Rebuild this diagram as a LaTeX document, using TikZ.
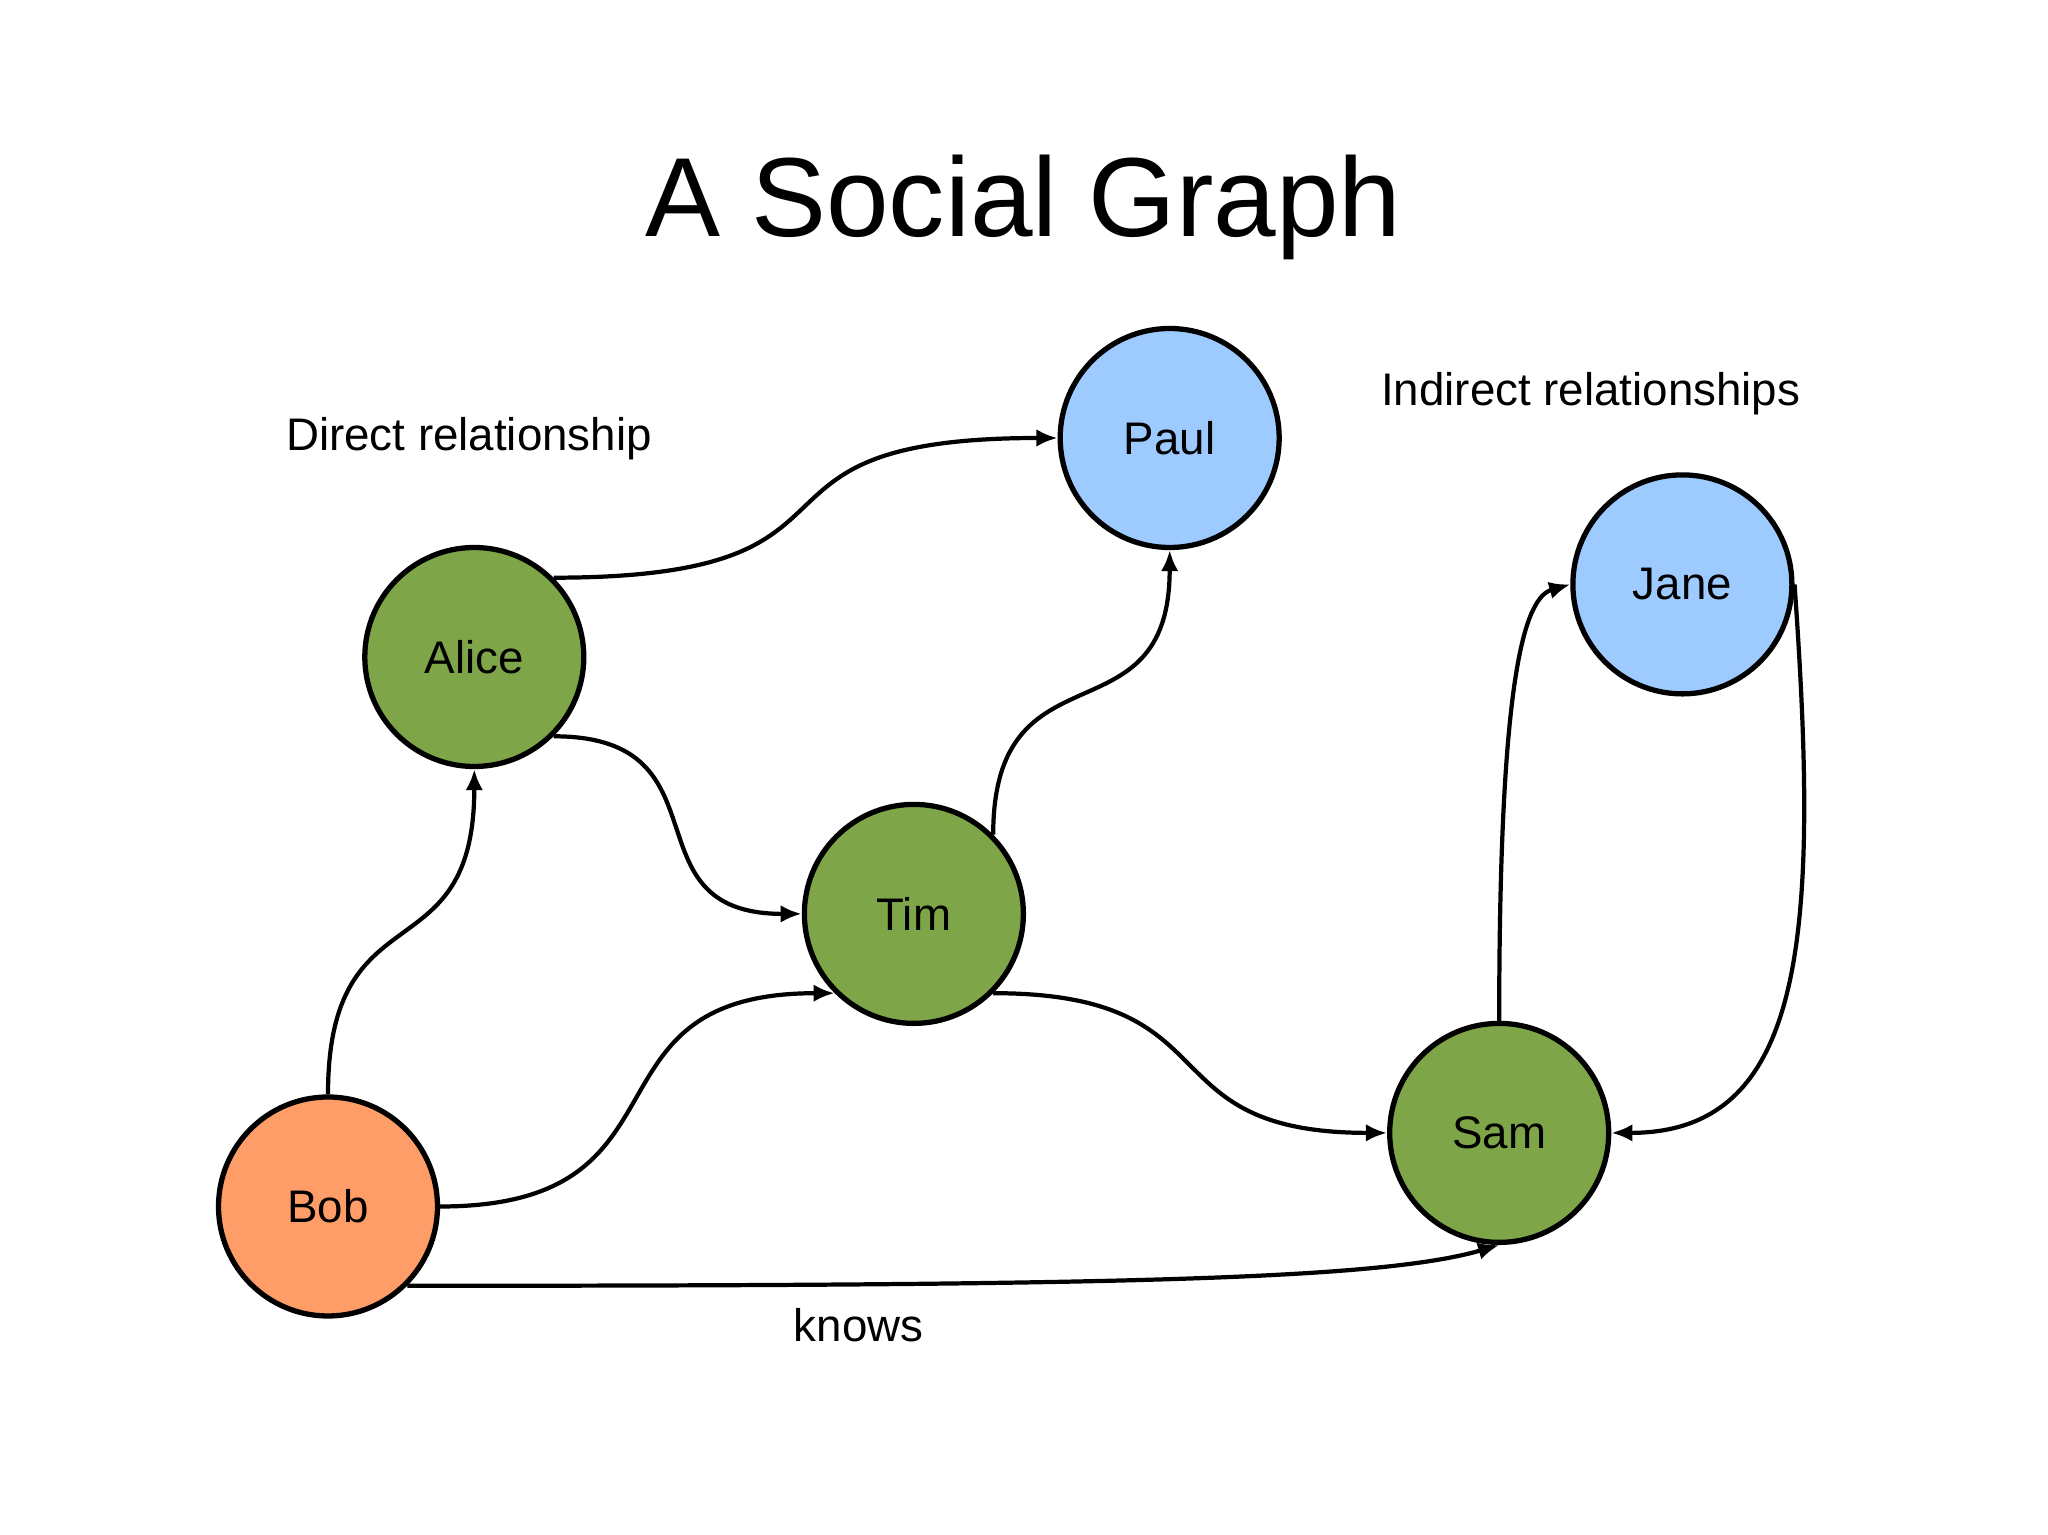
\documentclass[tikz,border=0pt]{standalone}
\usepackage{fontspec}
\setmainfont{Liberation Sans}
\usetikzlibrary{arrows.meta}
\definecolor{sggreen}{RGB}{126,166,72}
\definecolor{sgblue}{RGB}{158,203,255}
\definecolor{sgorange}{RGB}{255,157,105}
\tikzstyle{person} = [circle,draw=black,line width=1.5pt,minimum size=2.19cm,inner sep=0pt,font=\fontsize{13}{15}\selectfont]
\tikzstyle{link} = [line width=1.2pt,-{Latex[length=6pt,width=5pt]},looseness=1.5]
\tikzstyle{caption} = [anchor=base,font=\fontsize{13}{15}\selectfont]

\begin{document}
\begin{tikzpicture}
\useasboundingbox (0,0) rectangle (20.48,15.35);

% Title
\node[anchor=base,font=\fontsize{32}{38}\selectfont] (title) at (10.234,12.981) {A Social Graph};

% People
\node[person,fill=sgblue] (paul) at (11.697,10.97) {Paul};
\node[person,fill=sggreen] (alice) at (4.743,8.78) {Alice};
\node[person,fill=sggreen] (tim) at (9.139,6.211) {Tim};
\node[person,fill=sgblue] (jane) at (16.824,9.506) {Jane};
\node[person,fill=sgorange] (bob) at (3.28,3.285) {Bob};
\node[person,fill=sggreen] (sam) at (14.992,4.021) {Sam};

% Labels
\node[caption] (direct) at (4.689,10.84) {Direct relationship};
\node[caption] (indirect) at (15.908,11.298) {Indirect relationships};
\node[caption] (knows) at (8.586,1.931) {knows};

% Relationships
\draw[link] (alice.45) to[out=0,in=180,looseness=1.7] (paul.west);
\draw[link] (alice.-45) to[out=0,in=180] (tim.west);
\draw[link] (bob.north) to[out=90,in=-90] (alice.south);
\draw[link] (bob.east) to[out=0,in=180] (tim.-135);
\draw[link] (tim.45) to[out=90,in=-90] (paul.south);
\draw[link] (tim.-45) to[out=0,in=180] (sam.west);
\draw[link] (sam.north) .. controls +(0,3.5) and +(-0.45,-0.13) .. (jane.west);
\draw[link] (jane.east) .. controls +(0.25,-3.5) and +(1.95,0) .. (sam.east);
\draw[link] (bob.-45) .. controls +(7,0) and +(-1.2,-0.35) .. (sam.south);
\end{tikzpicture}
\end{document}
